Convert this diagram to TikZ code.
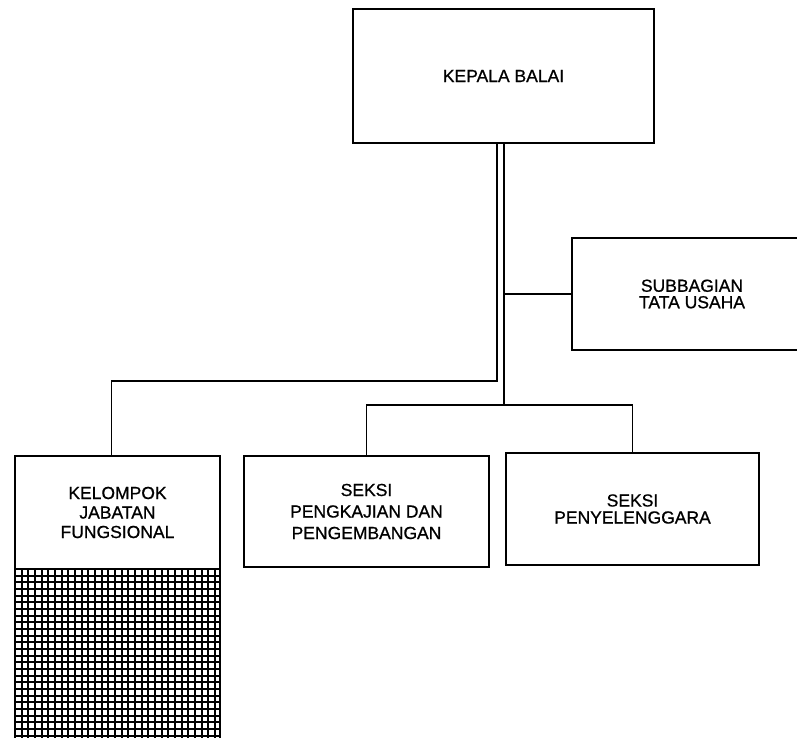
\documentclass[tikz,border=0pt]{standalone}
\usepackage{fontspec}
\setmainfont{Liberation Sans}
\newfontfamily\scanfont{Liberation Sans}[FakeBold=0.8]
\begin{document}
\begin{tikzpicture}[x=1pt,y=-1pt,
  orgbox/.style={draw=black,line width=1.8pt,inner sep=0pt,align=center,fill=white},
  conn/.style={draw=black,line width=1.8pt},
  gridline/.style={draw=black,line width=1.9pt}]
\clip (0,0) rectangle (797,738);
\fill[white] (0,0) rectangle (797,738);
% grid under KELOMPOK box
\foreach \k in {0,...,30} {
  \draw[gridline] ({15+\k*6.67},569) -- ({15+\k*6.67},740);
}
\foreach \k in {0,...,26} {
  \draw[gridline] (15,{569+\k*6.67}) -- (220,{569+\k*6.67});
}
\draw[gridline] (15,569) -- (15,740);
\draw[gridline] (220,569) -- (220,740);
% boxes
\node[orgbox,minimum width=301pt,minimum height=134pt,
  font=\scanfont\fontsize{17.5}{19}\selectfont] (kepala) at (503.5,76) {KEPALA BALAI};
\node[orgbox,minimum width=240pt,minimum height=112pt,
  font=\scanfont\fontsize{17.5}{16.5}\selectfont] (sub) at (692,294) {SUBBAGIAN\\TATA USAHA};
\node[orgbox,minimum width=205pt,minimum height=113pt,
  font=\scanfont\fontsize{17.5}{19.5}\selectfont] (kel) at (117.5,512.5) {KELOMPOK\\JABATAN\\FUNGSIONAL};
\node[orgbox,minimum width=245pt,minimum height=111pt,
  font=\scanfont\fontsize{17.5}{21.5}\selectfont] (peng) at (366.5,511.5) {SEKSI\\PENGKAJIAN DAN\\PENGEMBANGAN};
\node[orgbox,minimum width=253pt,minimum height=112pt,
  font=\scanfont\fontsize{17.5}{17}\selectfont] (peny) at (632.5,509) {SEKSI\\PENYELENGGARA};
% connectors
\coordinate (j1) at (497,381);
\coordinate (trunk) at (504,405);
\draw[conn] (kepala.south -| j1) -- (j1) -| ([xshift=-6pt]kel.north);
\draw[conn] (kepala.south -| trunk) -- (trunk);
\draw[conn] (sub.west) -- (sub.west -| trunk);
\draw[conn] (peng.north) |- (peny.north |- trunk) -- (peny.north);
\end{tikzpicture}
\end{document}
